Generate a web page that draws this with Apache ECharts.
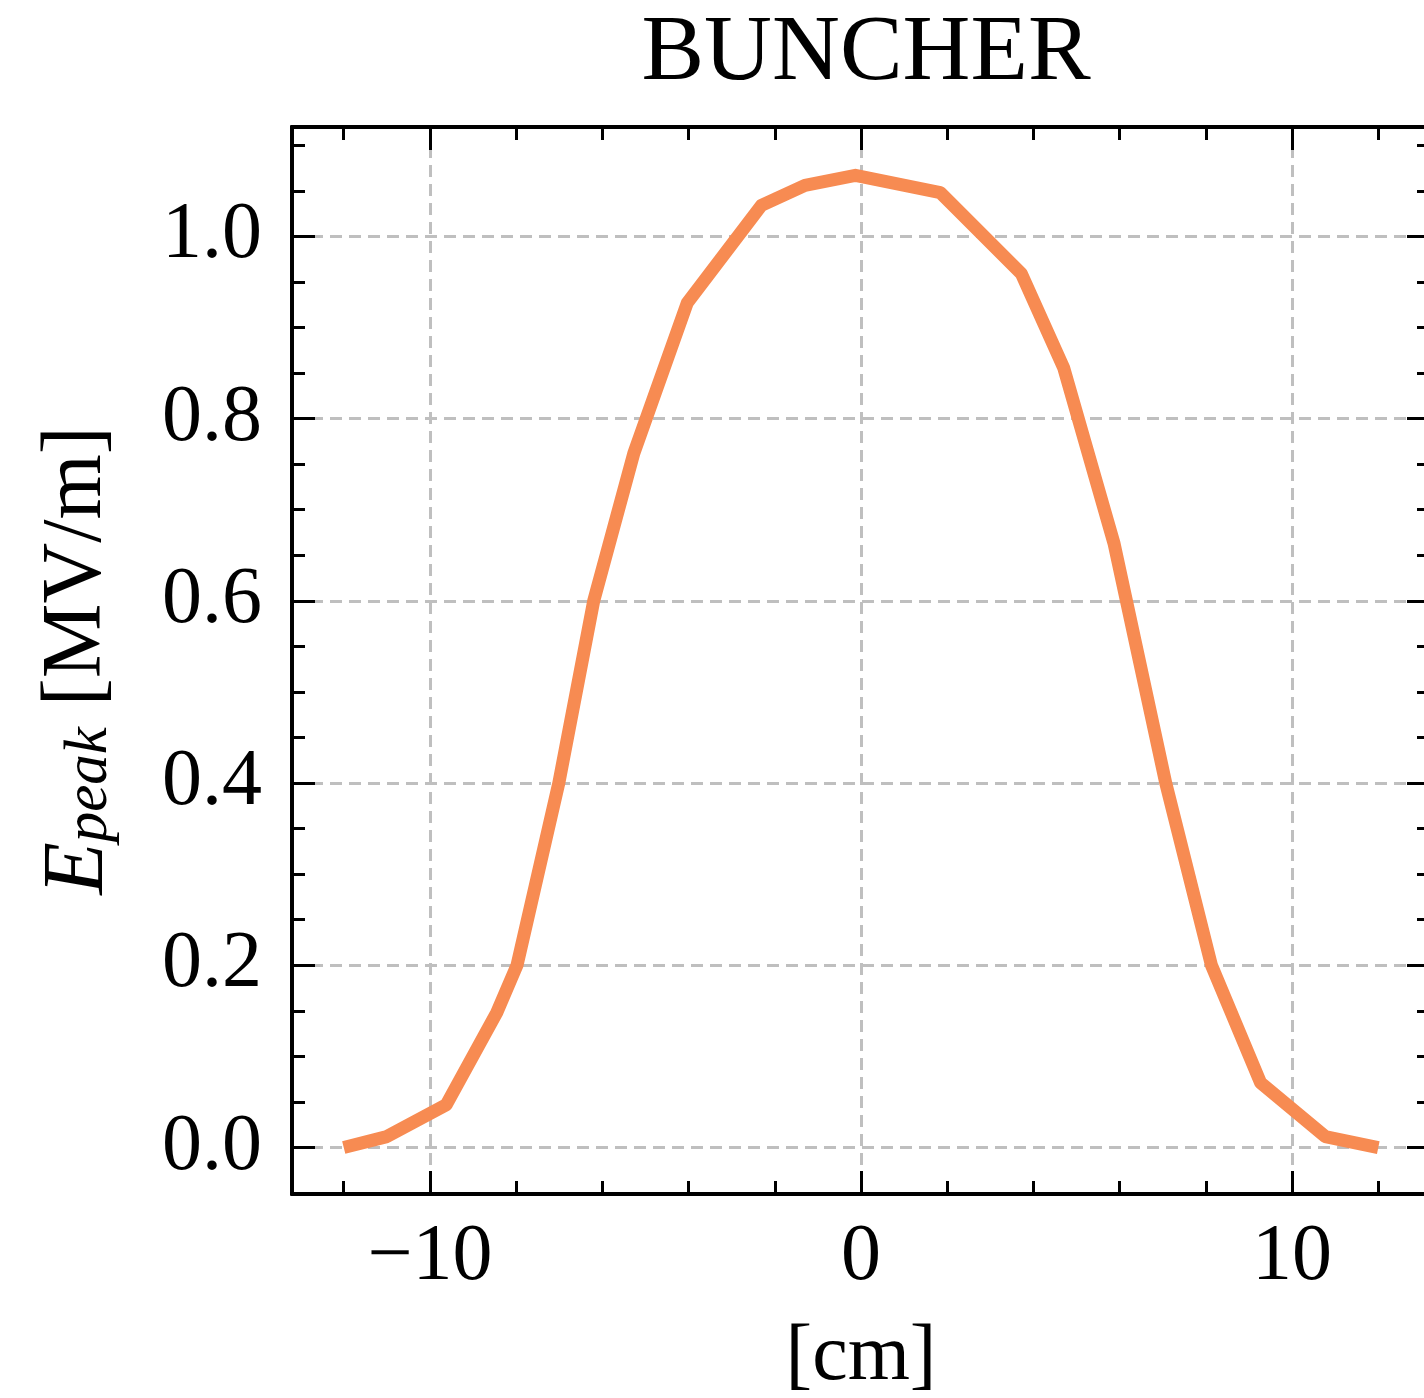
<!DOCTYPE html>
<html>
<head>
<meta charset="utf-8">
<script src="https://cdn.jsdelivr.net/npm/echarts@6/dist/echarts.min.js"></script>
<style>
html,body{margin:0;padding:0;background:#fff;}
#c{width:1424px;height:1398px;}
</style>
</head>
<body>
<div id="c"></div>
<script>
// ---- data ----
const titleText = 'BUNCHER';
const xName = '[cm]';
const xVals = [-12.0, -11.0, -9.62, -8.45, -7.98, -7.01, -6.2, -5.27, -4.03, -2.31, -1.3, -0.13, 1.84, 3.72, 4.7, 5.87, 7.07, 8.13, 9.27, 10.77, 12.0];
const yVals = [0.0, 0.012, 0.047, 0.148, 0.2, 0.4, 0.6, 0.762, 0.927, 1.034, 1.056, 1.067, 1.048, 0.959, 0.856, 0.663, 0.4, 0.2, 0.071, 0.012, 0.0];
const xMajorTicks = [-10, 0, 10];
const xMinorTicks = [-12, -8, -6, -4, -2, 2, 4, 6, 8, 12];
const yMajorTicks = [0.0, 0.2, 0.4, 0.6, 0.8, 1.0];
const yMinorTicks = [-0.05, 0.05, 0.1, 0.15, 0.25, 0.3, 0.35, 0.45, 0.5, 0.55, 0.65, 0.7, 0.75, 0.85, 0.9, 0.95, 1.05, 1.1];
const xRange = [-13.2, 13.2];
const yRange = [-0.051, 1.12];

// ---- styling ----
const FONT = "'Liberation Serif', 'DejaVu Serif', serif";
const LINE_COLOR = '#F78B52';
const AXIS_W = 3.8;
const MAJOR_LEN = 23, MINOR_LEN = 13;
const gridLine = {show: true, lineStyle: {color: '#bfbfbf', width: 3, type: [12, 7]}};

function mkAxis(kind, pos, ticks, len, opts) {
  const range = kind === 'x' ? xRange : yRange;
  return Object.assign({
    type: 'value', position: pos, min: range[0], max: range[1],
    axisLine: {show: true, onZero: false, lineStyle: {color: '#000', width: AXIS_W}},
    axisTick: {show: true, inside: true, length: len, customValues: ticks, lineStyle: {color: '#000', width: 3}},
    axisLabel: {show: false},
    splitLine: {show: false},
    minorTick: {show: false}
  }, opts || {});
}

const fmtX = v => v < 0 ? '\u2212' + Math.abs(v) : String(v);
const fmtY = v => v.toFixed(1);

const chart = echarts.init(document.getElementById('c'), null, {renderer: 'canvas'});
chart.setOption({
  backgroundColor: '#fff',
  animation: false,
  title: {
    text: titleText, left: 861, top: 2, textAlign: 'center',
    textStyle: {fontFamily: FONT, fontSize: 94, fontWeight: 'normal', color: '#000'}
  },
  grid: {left: 292, top: 127, width: 1138, height: 1067, containLabel: false, outerBoundsMode: 'none'},
  xAxis: [
    mkAxis('x', 'bottom', xMajorTicks, MAJOR_LEN, {
      axisLabel: {show: true, customValues: xMajorTicks, formatter: fmtX, fontFamily: FONT, fontSize: 80, color: '#000', margin: 24},
      splitLine: gridLine,
      name: xName, nameLocation: 'middle', nameGap: 124,
      nameTextStyle: {fontFamily: FONT, fontSize: 80, color: '#000'}
    }),
    mkAxis('x', 'bottom', xMinorTicks, MINOR_LEN),
    mkAxis('x', 'top', xMajorTicks, MAJOR_LEN),
    mkAxis('x', 'top', xMinorTicks, MINOR_LEN)
  ],
  yAxis: [
    mkAxis('y', 'left', yMajorTicks, MAJOR_LEN, {
      axisLabel: {show: true, customValues: yMajorTicks, formatter: fmtY, fontFamily: FONT, fontSize: 80, color: '#000', margin: 30},
      splitLine: gridLine,
      name: '{e|E}{s|peak}{r| [MV/m]}', nameLocation: 'middle', nameGap: 172, nameRotate: 90,
      nameTextStyle: {
        fontFamily: FONT, fontSize: 84, color: '#000',
        rich: {
          e: {fontFamily: FONT, fontSize: 86, fontStyle: 'italic', color: '#000', lineHeight: 84, verticalAlign: 'top'},
          s: {fontFamily: FONT, fontSize: 61, fontStyle: 'italic', color: '#000', lineHeight: 60, padding: [48, 0, 0, 0], verticalAlign: 'bottom'},
          r: {fontFamily: FONT, fontSize: 84, color: '#000', lineHeight: 84, verticalAlign: 'top'}
        }
      }
    }),
    mkAxis('y', 'left', yMinorTicks, MINOR_LEN),
    mkAxis('y', 'right', yMajorTicks, MAJOR_LEN),
    mkAxis('y', 'right', yMinorTicks, MINOR_LEN)
  ],
  series: [{
    type: 'line',
    xAxisIndex: 0, yAxisIndex: 0,
    data: xVals.map((x, i) => [x, yVals[i]]),
    showSymbol: false,
    symbol: 'none',
    lineStyle: {color: LINE_COLOR, width: 13, join: 'round', cap: 'butt'},
    z: 3
  }]
});
</script>
</body>
</html>
